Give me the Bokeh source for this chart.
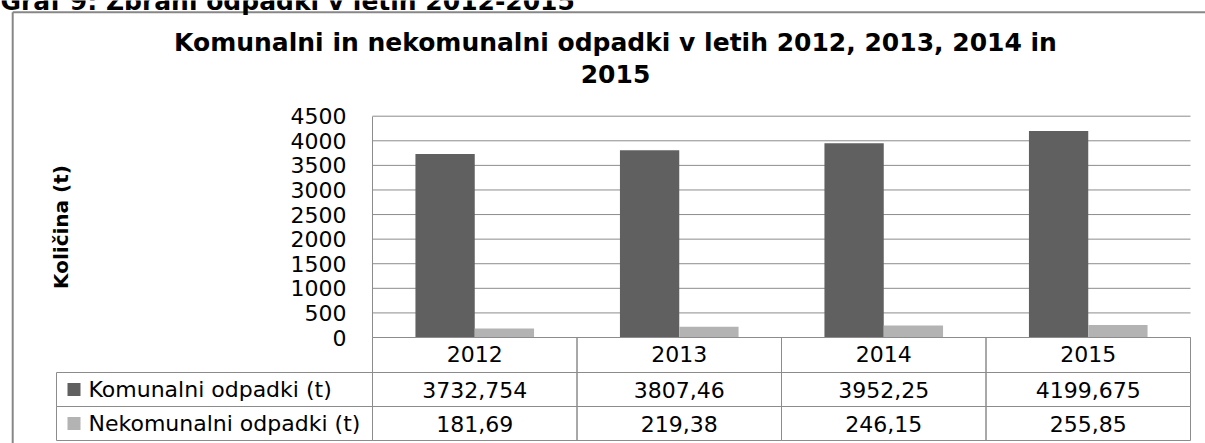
from bokeh.plotting import figure
from bokeh.models import Range1d, FixedTicker, LinearAxis, ColumnDataSource
from bokeh.core.properties import value
from bokeh.transform import dodge
from bokeh.embed import file_html
from bokeh.resources import INLINE

# ---- data ----
header = "Graf 9: Zbrani odpadki v letih 2012-2015"
title_lines = ["Komunalni in nekomunalni odpadki v letih 2012, 2013, 2014 in", "2015"]
y_label = "Količina (t)"
years = ["2012", "2013", "2014", "2015"]
komunalni = [3732.754, 3807.46, 3952.25, 4199.675]
nekomunalni = [181.69, 219.38, 246.15, 255.85]
series_names = ["Komunalni odpadki (t)", "Nekomunalni odpadki (t)"]
y_ticks = [0, 500, 1000, 1500, 2000, 2500, 3000, 3500, 4000, 4500]

# ---- style ----
FONT = "DejaVu Sans"
C_KOM = "#606060"
C_NEK = "#b3b3b3"
C_LINE = "#8c8c8c"
C_FRAME = "#878787"

# ---- layout (canvas pixels) ----
W, H = 1205, 443
PL, PR, PT, PB = 372.0, 1190.0, 115.7, 337.0     # plot area
ROWS = [337.0, 372.0, 406.0, 440.0]               # table row edges
TAB_LEFT = 56.0

n = len(years)
ymax = y_ticks[-1]
ppu = (PR - PL) / n
ppy = (PB - PT) / ymax


def X(px):
    return (px - PL) / ppu


def Y(py):
    return (PB - py) / ppy


p = figure(width=W, height=H, x_range=Range1d(X(0), X(W)), y_range=Range1d(Y(H), Y(0)),
           x_axis_type=None, y_axis_type=None, title=None,
           output_backend="svg", toolbar_location=None, min_border=0)
p.outline_line_color = None
p.background_fill_color = "white"
p.border_fill_color = "white"
p.xgrid.visible = False
p.ygrid.visible = False

cx = [i + 0.5 for i in range(n)]
src = ColumnDataSource(dict(x=cx, kom=komunalni, nek=nekomunalni))

# gridlines
p.segment(x0=0, x1=n, y0=y_ticks[1:], y1=y_ticks[1:], line_color=C_LINE, line_width=1)

# bars
p.vbar(x=dodge("x", -0.145), top="kom", width=0.29, source=src, fill_color=C_KOM, line_color=None)
p.vbar(x=dodge("x", 0.145), top="nek", width=0.29, source=src, fill_color=C_NEK, line_color=None)

# y axis (drawn at the left edge of the plot area)
yax = LinearAxis(fixed_location=0, ticker=FixedTicker(ticks=y_ticks), bounds=(0, ymax))
yax.major_tick_out = 0
yax.major_tick_in = 0
yax.minor_tick_out = 0
yax.minor_tick_in = 0
yax.axis_line_color = C_LINE
yax.major_label_standoff = 26
yax.major_label_text_font = FONT
yax.major_label_text_font_size = "22px"
yax.major_label_text_color = "black"
yax.axis_label = y_label
yax.axis_label_text_font = FONT
yax.axis_label_text_font_style = "bold"
yax.axis_label_text_font_size = "20px"
yax.axis_label_text_color = "black"
yax.axis_label_standoff = 215
p.add_layout(yax, "left")

# x axis with the years (header row of the table)
xax = LinearAxis(fixed_location=0, ticker=FixedTicker(ticks=cx), bounds=(0, n),
                 major_label_overrides={c: yr for c, yr in zip(cx, years)})
xax.major_tick_out = 0
xax.major_tick_in = 0
xax.minor_tick_out = 0
xax.minor_tick_in = 0
xax.axis_line_color = C_LINE
xax.major_label_standoff = 8
xax.major_label_text_font = FONT
xax.major_label_text_font_size = "22px"
xax.major_label_text_color = "black"
p.add_layout(xax, "below")

# ---- data table ----
cell_l, cell_r, cell_t, cell_b = [], [], [], []
for i in range(n):
    for r in range(3):
        cell_l.append(i)
        cell_r.append(i + 1)
        cell_t.append(Y(ROWS[r]))
        cell_b.append(Y(ROWS[r + 1]))
for r in range(1, 3):
    cell_l.append(X(TAB_LEFT))
    cell_r.append(0)
    cell_t.append(Y(ROWS[r]))
    cell_b.append(Y(ROWS[r + 1]))
p.quad(left=cell_l, right=cell_r, top=cell_t, bottom=cell_b,
       fill_color=None, line_color=C_LINE, line_width=1)

series_vals = [komunalni, nekomunalni]
series_cols = [C_KOM, C_NEK]
row_c = [(ROWS[r] + ROWS[r + 1]) / 2 for r in range(1, 3)]

# legend squares + row labels
p.quad(left=X(67), right=X(80), top=[Y(c - 6.5) for c in row_c], bottom=[Y(c + 6.5) for c in row_c],
       fill_color=series_cols, line_color=None)
p.text(x=X(88), y=[Y(c) for c in row_c], text=series_names,
       text_font=value(FONT), text_font_size="22px", text_color="black",
       text_align="left", text_baseline="middle")

# cell values
vx, vy, vt = [], [], []
for r in range(2):
    for i in range(n):
        vx.append(cx[i])
        vy.append(Y(row_c[r]))
        vt.append(repr(series_vals[r][i]).replace(".", ","))
p.text(x=vx, y=vy, text=vt, text_font=value(FONT), text_font_size="22px", text_color="black",
       text_align="center", text_baseline="middle")

# ---- chart title ----
p.text(x=X(615), y=[Y(42.0), Y(73.5)], text=title_lines,
       text_font=value(FONT), text_font_size="25px", text_font_style="bold",
       text_color="black", text_align="center", text_baseline="middle")

# outer chart frame (left and top edges)
FX, FY = 12.2, 11.8
p.segment(x0=[X(FX), X(FX)], y0=[Y(FY), Y(FY)], x1=[X(W + 10), X(FX)], y1=[Y(FY), Y(H + 10)],
          line_color=C_FRAME, line_width=2)

# page header (its top is cut off by the picture's edge, as in the source page)
p.text(x=X(0), y=Y(1.0), text=[header], text_font=value(FONT), text_font_size="25px",
       text_font_style="bold", text_color="black", text_align="left", text_baseline="middle")

open("out.html", "w").write(file_html(p, INLINE))
